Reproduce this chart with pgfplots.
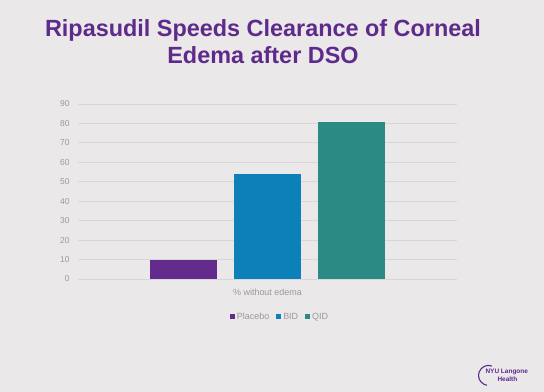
\documentclass[border=0pt]{standalone}
\usepackage{pgfplots}
\pgfplotsset{compat=1.18}
\usepackage{fontspec}
\setmainfont{Liberation Sans}
\definecolor{bg}{HTML}{EAE8E8}
\definecolor{ttl}{HTML}{5E2A8C}
\definecolor{cpl}{HTML}{632B8C}
\definecolor{cbid}{HTML}{0C80B9}
\definecolor{cqid}{HTML}{2B8A84}
\definecolor{gridc}{HTML}{D8D6D6}
\definecolor{tickc}{HTML}{9A9A9A}
\begin{document}
\begin{tikzpicture}
\fill[bg] (0bp,0bp) rectangle (544bp,392bp);
\node[ttl,font=\fontsize{23.5}{26}\selectfont\bfseries,align=center,anchor=base] at (263bp,355bp) {Ripasudil Speeds Clearance of Corneal};
\node[ttl,font=\fontsize{23.5}{26}\selectfont\bfseries,align=center,anchor=base] at (263bp,328bp) {Edema after DSO};
\begin{axis}[
  at={(78bp,113bp)}, anchor=south west,
  scale only axis, width=379bp, height=175bp,
  ymin=0, ymax=90, xmin=-1, xmax=1,
  ytick={0,10,...,90},
  xtick={0}, xticklabels={\% without edema},
  axis line style={draw=none},
  ymajorgrids, major grid style={gridc, line width=0.8pt},
  tick style={draw=none},
  ticklabel style={tickc, font=\fontsize{8.5}{10}\selectfont},
  /pgf/number format/assume math mode=true,
  yticklabel style={xshift=-5bp},
  xticklabel style={yshift=-2bp, font=\fontsize{9}{10}\selectfont},
  ybar=17bp, bar width=67bp,
  legend style={draw=none, fill=none, at={(0.533,-0.217)}, anchor=center,
    legend columns=3, font=\fontsize{9}{10}\selectfont, text=tickc,
    /tikz/every even column/.append style={column sep=5bp}},
  legend image code/.code={\fill[#1] (0bp,-2.5bp) rectangle (5bp,2.5bp);},
]
\addplot[fill=cpl, draw=none] coordinates {(0,10)};
\addplot[fill=cbid, draw=none] coordinates {(0,54)};
\addplot[fill=cqid, draw=none] coordinates {(0,81)};
\legend{Placebo, BID, QID}
\end{axis}
\draw[ttl, line width=1.1bp] (492bp,26bp) arc[start angle=70, end angle=260, radius=10bp];
\node[ttl, font=\fontsize{6.5}{7}\selectfont\bfseries, anchor=west] at (482bp,20bp) {NYU Langone};
\node[ttl, font=\fontsize{6.5}{7}\selectfont\bfseries, anchor=west] at (494bp,13bp) {Health};
\end{tikzpicture}
\end{document}
